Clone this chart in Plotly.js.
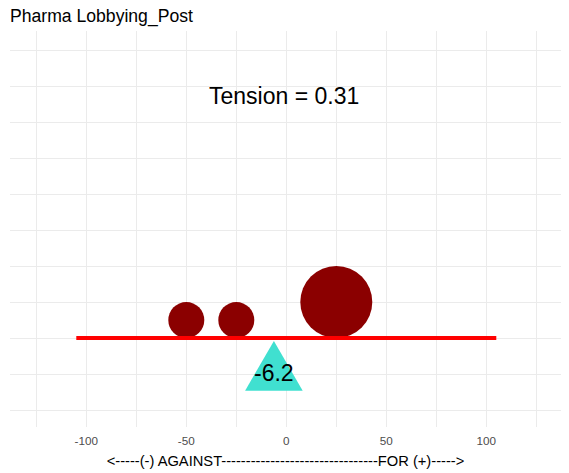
<!DOCTYPE html>
<html>
<head>
<meta charset="utf-8">
<script src="https://cdn.plot.ly/plotly-3.0.1.min.js"></script>
<style>html,body{margin:0;padding:0;background:#fff;}#chart{width:569px;height:473px;}</style>
</head>
<body>
<div id="chart"></div>
<script>
// ---- data ----
const chartTitle = "Pharma Lobbying_Post";
const positions = [-50, -25, 25];        // stance positions of actors
const heights = [0.5, 0.5, 1];           // centre heights (radius in y units)
const weights = [1, 1, 2];               // relative weight (diameter scale)
const pivot = -6.2;                      // fulcrum position
const tension = 0.31;
const beamStart = -105;
const beamEnd = 105;
const gridVals = [-125, -100, -75, -50, -25, 0, 25, 50, 75, 100, 125];
const tickLabels = ["", "-100", "", "-50", "", "0", "", "50", "", "100", ""];
const xTitle = "<-----(-) AGAINST--------------------------------FOR (+)----->";

// ---- style ----
const FONT = "Liberation Sans, Arial, sans-serif";
const baseDiameter = 36;  // px per weight unit
const triHalfW = 14.4;    // x units
const triTop = -0.08, triBase = -1.46;

const circles = {
  x: positions, y: heights, type: "scatter", mode: "markers",
  marker: {size: weights.map(w => w * baseDiameter), color: "#8B0000", opacity: 1, line: {width: 0}},
  hoverinfo: "skip", showlegend: false
};
const beam = {
  x: [beamStart, beamEnd], y: [0, 0], type: "scatter", mode: "lines",
  line: {color: "#FF0000", width: 4}, hoverinfo: "skip", showlegend: false
};
const fulcrum = {
  x: [pivot - triHalfW, pivot, pivot + triHalfW, pivot - triHalfW],
  y: [triBase, triTop, triBase, triBase],
  type: "scatter", mode: "lines", fill: "toself", fillcolor: "#40E0D0",
  line: {width: 0, color: "#40E0D0"}, hoverinfo: "skip", showlegend: false
};

const layout = {
  width: 569, height: 473,
  margin: {l: 10, r: 8, t: 31, b: 46, pad: 0},
  paper_bgcolor: "#ffffff", plot_bgcolor: "#ffffff",
  font: {family: FONT, color: "#000000"},
  title: {text: chartTitle, font: {family: FONT, size: 17.6, color: "#000000"},
          xref: "container", x: 10/569, xanchor: "left", yref: "container", y: 1 - 16/473, yanchor: "middle"},
  xaxis: {
    range: [-138.15, 137.35], tickmode: "array", tickvals: gridVals, ticktext: tickLabels,
    showgrid: true, gridcolor: "#EBEBEB", gridwidth: 1, zeroline: false, showline: false,
    ticks: "", ticklabelstandoff: 5, tickfont: {family: FONT, size: 11.7, color: "#4D4D4D"},
    title: {text: xTitle, font: {family: FONT, size: 14.7, color: "#000000"}, standoff: 10},
    fixedrange: true
  },
  yaxis: {
    range: [-2.47, 8.53], tickmode: "array", tickvals: [-2,-1,0,1,2,3,4,5,6,7,8],
    showticklabels: false, showgrid: true, gridcolor: "#EBEBEB", gridwidth: 1,
    zeroline: false, showline: false, ticks: "", fixedrange: true
  },
  annotations: [
    {x: -1, y: 6.72, xref: "x", yref: "y", text: "Tension = " + tension.toFixed(2), showarrow: false,
     font: {family: FONT, size: 23, color: "#000000"}, xanchor: "center", yanchor: "middle"},
    {x: pivot, y: -0.98, xref: "x", yref: "y", text: String(pivot), showarrow: false,
     font: {family: FONT, size: 23, color: "#000000"}, xanchor: "center", yanchor: "middle"}
  ],
  showlegend: false
};

Plotly.newPlot("chart", [circles, fulcrum, beam], layout, {displayModeBar: false, staticPlot: true});
</script>
</body>
</html>
